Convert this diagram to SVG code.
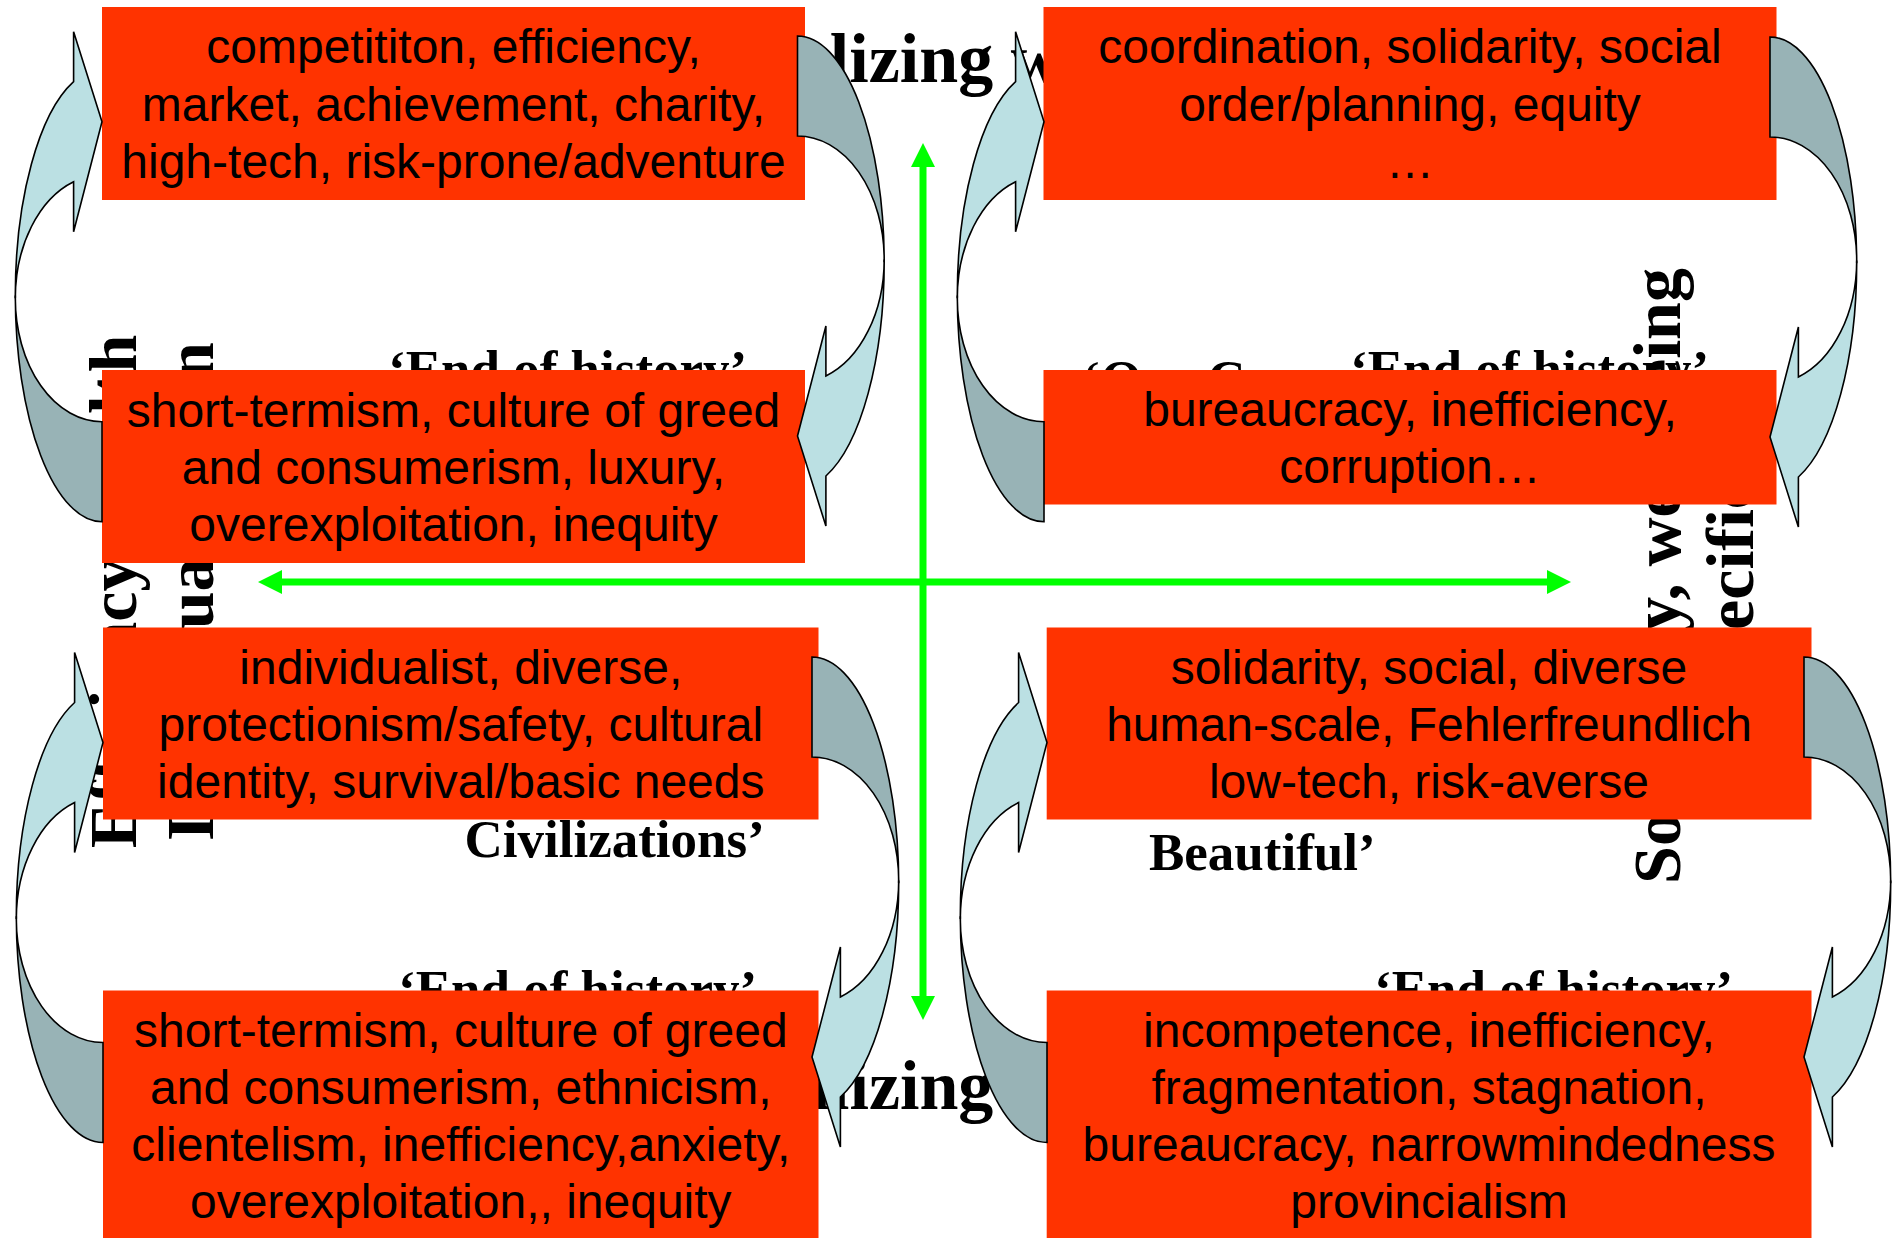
<svg xmlns="http://www.w3.org/2000/svg" xmlns:xlink="http://www.w3.org/1999/xlink" width="1904" height="1238" viewBox="0 0 1904 1238">
<style>
.box{fill:#FF3300}
.bt{font-family:"Liberation Sans",Arial,sans-serif;font-size:48px;text-anchor:middle;fill:#000}
.bg{font-family:"Liberation Serif","Times New Roman",serif;font-weight:bold;font-size:53px;fill:#000}
.ax{font-family:"Liberation Serif","Times New Roman",serif;font-weight:bold;font-size:68px;fill:#000;text-anchor:middle}
.ttl{font-family:"Liberation Serif","Times New Roman",serif;font-weight:bold;font-size:70px;fill:#000}
.lt{fill:#BBE0E3;stroke:#000;stroke-width:1.6;stroke-linejoin:miter}
.dk{fill:#98B3B6;stroke:#000;stroke-width:1.6}
.gl{stroke:#00FF00;stroke-width:7;fill:none}
.gh{fill:#00FF00}
</style>
<defs>
<g id="ca">
<path class="dk" d="M-86.7,173.8 A86.7,226.2 0 0 0 0,400 L0,300 A86.7,123.4 0 0 1 -86.7,176.6 Z"/>
<path class="lt" d="M-28.4,-40 L-28.4,-90 L0,0 L-28.4,110 L-28.4,60 A86.7,123.4 0 0 0 -86.7,176.6 L-86.7,173.8 A86.7,226.2 0 0 1 -28.4,-40 Z"/>
</g>
</defs>
<rect width="1904" height="1238" fill="#fff"/>
<g id="labels">
<text class="ttl" x="647" y="82">Globalizing world</text>
<text class="ttl" x="585" y="1109">Regionalizing world</text>
<text class="ax" transform="translate(136,591.5) rotate(-90)">Efficiency, wealth</text>
<text class="ax" transform="translate(213,591.5) rotate(-90)">Individualization</text>
<text class="ax" transform="translate(1680,576) rotate(-90)">Solidarity, well-being</text>
<text class="ax" style="text-anchor:start" transform="translate(1753,705.6) rotate(-90)">Specificity</text>
<text class="bg" x="388" y="387">‘End of history’</text>
<text class="bg" x="1083" y="397">‘Our Common</text>
<text class="bg" x="1350" y="387">‘End of history’</text>
<text class="bg" x="464.5" y="856.5">Civilizations’</text>
<text class="bg" x="398" y="1007">‘End of history’</text>
<text class="bg" x="1149" y="870">Beautiful’</text>
<text class="bg" x="1374" y="1007">‘End of history’</text>
</g>
<g id="node-tl1">
<rect class="box" x="102" y="7" width="703" height="193"/>
<text class="bt" x="453.5" y="63.3">competititon, efficiency,</text>
<text class="bt" x="453.5" y="120.5">market, achievement, charity,</text>
<text class="bt" x="453.5" y="177.7">high-tech, risk-prone/adventure</text>
</g>
<g id="node-tl2">
<rect class="box" x="102" y="370" width="703" height="193"/>
<text class="bt" x="453.5" y="426.7">short-termism, culture of greed</text>
<text class="bt" x="453.5" y="483.6">and consumerism, luxury,</text>
<text class="bt" x="453.5" y="540.5">overexploitation, inequity</text>
</g>
<g id="node-tr1">
<rect class="box" x="1043.5" y="7" width="733" height="193"/>
<text class="bt" x="1410" y="63.3">coordination, solidarity, social</text>
<text class="bt" x="1410" y="120.5">order/planning, equity</text>
<text class="bt" x="1410" y="177.7">…</text>
</g>
<g id="node-tr2">
<rect class="box" x="1043.5" y="370" width="733" height="134.5"/>
<text class="bt" x="1410" y="425.7">bureaucracy, inefficiency,</text>
<text class="bt" x="1410" y="482.5">corruption…</text>
</g>
<g id="node-bl1">
<rect class="box" x="103" y="627.5" width="715.5" height="192"/>
<text class="bt" x="460.8" y="684">individualist, diverse,</text>
<text class="bt" x="460.8" y="741.2">protectionism/safety, cultural</text>
<text class="bt" x="460.8" y="798.4">identity, survival/basic needs</text>
</g>
<g id="node-bl2">
<rect class="box" x="103" y="990.5" width="715.5" height="260"/>
<text class="bt" x="460.8" y="1046.5">short-termism, culture of greed</text>
<text class="bt" x="460.8" y="1103.5">and consumerism, ethnicism,</text>
<text class="bt" x="460.8" y="1160.5">clientelism, inefficiency,anxiety,</text>
<text class="bt" x="460.8" y="1217.5">overexploitation,, inequity</text>
</g>
<g id="node-br1">
<rect class="box" x="1046.7" y="627.5" width="764.8" height="192"/>
<text class="bt" x="1429" y="684">solidarity, social, diverse</text>
<text class="bt" x="1429" y="741.2">human-scale, Fehlerfreundlich</text>
<text class="bt" x="1429" y="798.4">low-tech, risk-averse</text>
</g>
<g id="node-br2">
<rect class="box" x="1046.7" y="990.5" width="764.8" height="260"/>
<text class="bt" x="1429" y="1046.5">incompetence, inefficiency,</text>
<text class="bt" x="1429" y="1103.5">fragmentation, stagnation,</text>
<text class="bt" x="1429" y="1160.5">bureaucracy, narrowmindedness</text>
<text class="bt" x="1429" y="1217.5">provincialism</text>
</g>
<g id="connectors">
<use xlink:href="#ca" href="#ca" transform="translate(102,121.7)"/>
<use xlink:href="#ca" href="#ca" transform="translate(797.5,436) rotate(180)"/>
<use xlink:href="#ca" href="#ca" transform="translate(1044,121.7)"/>
<use xlink:href="#ca" href="#ca" transform="translate(1770,437) rotate(180)"/>
<use xlink:href="#ca" href="#ca" transform="translate(103,742.5)"/>
<use xlink:href="#ca" href="#ca" transform="translate(812,1057) rotate(180)"/>
<use xlink:href="#ca" href="#ca" transform="translate(1047,742.5)"/>
<use xlink:href="#ca" href="#ca" transform="translate(1804,1057) rotate(180)"/>
</g>
<g id="axes">
<line class="gl" x1="923" y1="160" x2="923" y2="1003"/>
<polygon class="gh" points="923,143 911,167 935,167"/>
<polygon class="gh" points="923,1020 911,996 935,996"/>
<line class="gl" x1="276" y1="582" x2="1553" y2="582"/>
<polygon class="gh" points="258,582 282,570 282,594"/>
<polygon class="gh" points="1571,582 1547,570 1547,594"/>
</g>
</svg>
